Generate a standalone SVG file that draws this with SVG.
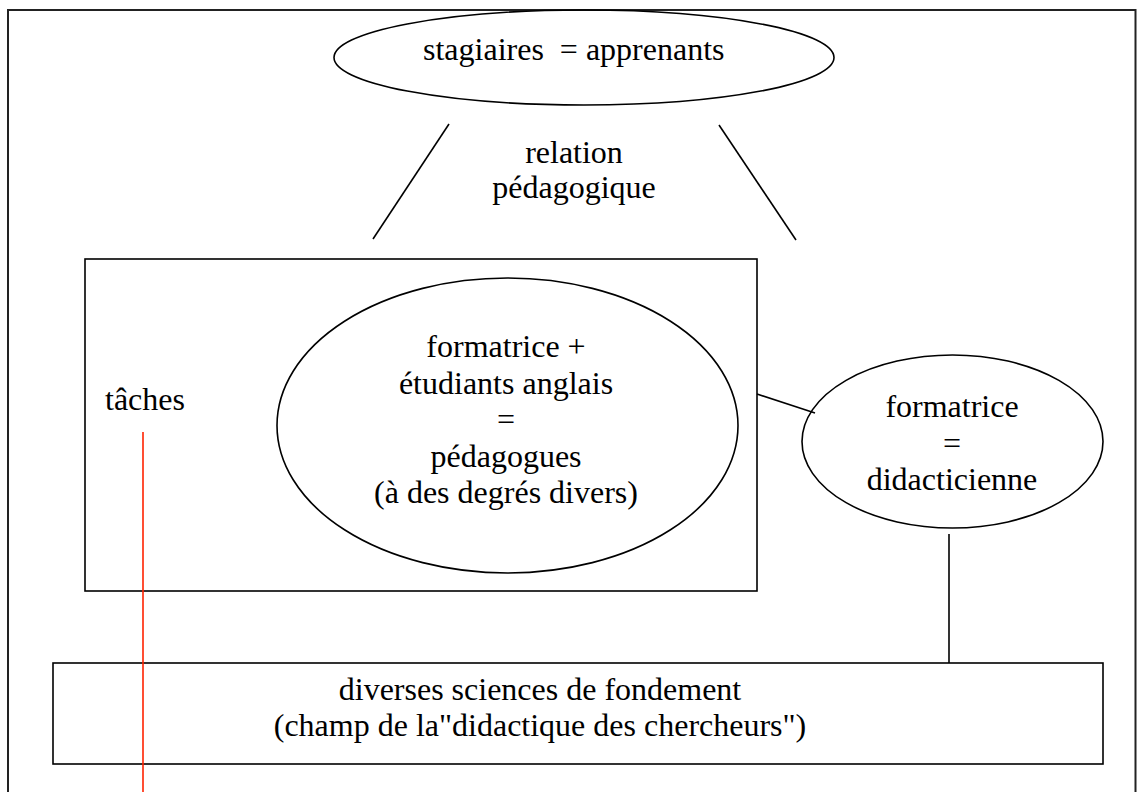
<svg xmlns="http://www.w3.org/2000/svg" width="1137" height="792" viewBox="0 0 1137 792">
<style>
.s{fill:none;stroke:#000;stroke-width:1.6}
.t{font-family:"Liberation Serif","Times New Roman",serif;font-size:32px;fill:#000}
.c{text-anchor:middle}
</style>
<rect width="1137" height="792" fill="#fff"/>
<g id="frame"><path d="M8,800 V10 H1135.5 V800" fill="none" stroke="#222" stroke-width="2"/></g>
<g id="stagiaires">
<ellipse class="s" cx="584" cy="57.5" rx="250" ry="47.5"/>
<text class="t" x="423" y="60" xml:space="preserve">stagiaires  = apprenants</text>
</g>
<g id="relation">
<text class="t c" x="574" y="163">relation</text>
<text class="t c" x="574" y="198">pédagogique</text>
</g>
<g id="taches-box">
<rect class="s" x="85" y="259" width="672" height="332"/>
<text class="t" x="105" y="410">tâches</text>
</g>
<g id="pedagogues">
<ellipse class="s" cx="507.5" cy="425.5" rx="230.5" ry="147.5"/>
<text class="t c" x="506" y="357">formatrice +</text>
<text class="t c" x="506" y="393.5">étudiants anglais</text>
<text class="t c" x="506" y="430">=</text>
<text class="t c" x="506" y="466.5">pédagogues</text>
<text class="t c" x="506" y="503">(à des degrés divers)</text>
</g>
<g id="didacticienne">
<ellipse class="s" cx="952.5" cy="441.5" rx="150.5" ry="86.5"/>
<text class="t c" x="952" y="417">formatrice</text>
<text class="t c" x="952" y="453.5">=</text>
<text class="t c" x="952" y="490">didacticienne</text>
</g>
<g id="sciences">
<rect class="s" x="53" y="663" width="1050" height="101"/>
<text class="t c" x="540" y="700">diverses sciences de fondement</text>
<text class="t c" x="540" y="736">(champ de la"didactique des chercheurs")</text>
</g>
<g id="connectors">
<line class="s" x1="449" y1="124" x2="373" y2="239"/>
<line class="s" x1="719" y1="125" x2="796" y2="240"/>
<line class="s" x1="757" y1="394" x2="815" y2="413"/>
<line class="s" x1="949" y1="534" x2="949" y2="663"/>
<line x1="143" y1="432" x2="143" y2="792" stroke="#ff2200" stroke-width="1.6"/>
</g>
</svg>
